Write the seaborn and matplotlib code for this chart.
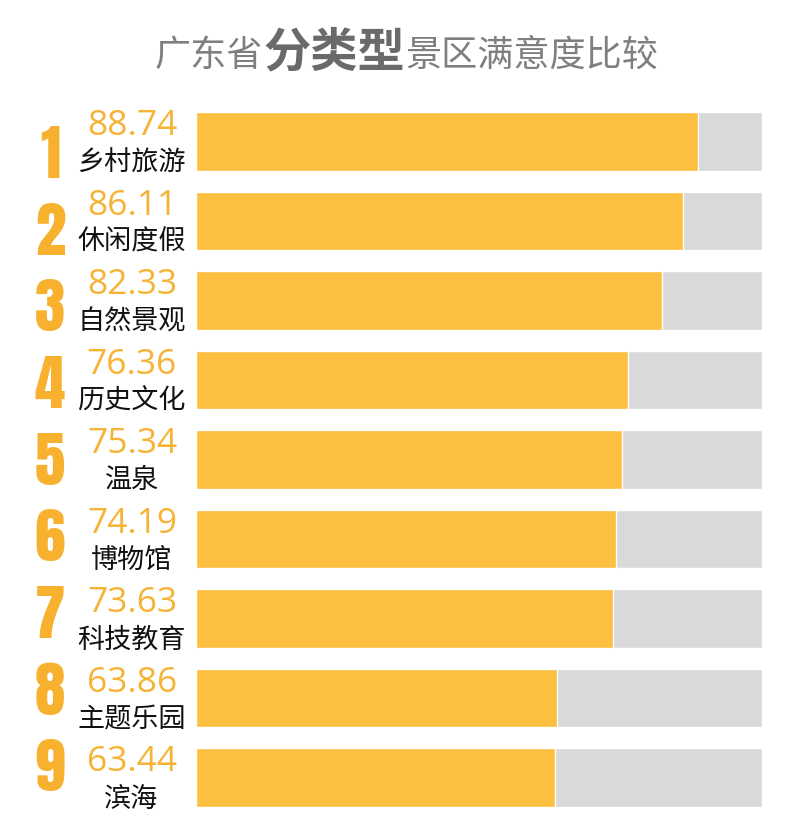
import matplotlib
matplotlib.use("Agg")
import matplotlib.pyplot as plt
import matplotlib.transforms as mtransforms
import seaborn as sns
import pandas as pd

categories = ["乡村旅游", "休闲度假", "自然景观", "历史文化", "温泉", "博物馆", "科技教育", "主题乐园", "滨海"]
scores = [88.74, 86.11, 82.33, 76.36, 75.34, 74.19, 73.63, 63.86, 63.44]
ranks = ["1", "2", "3", "4", "5", "6", "7", "8", "9"]
full_scale = [100] * len(categories)

sns.set_theme(style="white")
plt.rcParams["font.family"] = ["Noto Sans CJK SC", "DejaVu Sans"]

df = pd.DataFrame({"cat": categories, "score": scores, "full": full_scale})

fig = plt.figure(figsize=(8, 8.39), dpi=100)
ax = fig.add_axes([0.245, 1 - 817.25 / 839, 566 / 800, (817.25 - 101.75) / 839])

sns.barplot(data=df, x="full", y="cat", orient="h", color="#D9D9D9", width=0.73,
            saturation=1, ax=ax)
sns.barplot(data=df, x="score", y="cat", orient="h", color="#FCBF3F", width=0.73,
            saturation=1, ax=ax)
ax.set_xlim(0, 100)
ax.set_ylim(len(categories) - 0.5, -0.5)
ax.axis("off")

tr = mtransforms.blended_transform_factory(fig.transFigure, ax.transData)
n = len(categories)
for i, (c, s, r) in enumerate(zip(categories, scores, ranks)):
    fig.text(132 / 800, i - 0.19, f"{s:.2f}", transform=tr, ha="center", va="center",
             fontsize=25.5, color="#F6B335", fontweight="normal",
             family=["Open Sans", "DejaVu Sans"])
    fig.text(131.5 / 800, i + 0.27, c, transform=tr, ha="center", va="center",
             fontsize=19.5, color="#111111", family=["Noto Sans CJK SC", "DejaVu Sans"])
    fig.text(50 / 800, 0.176 + i * 0.9646, r, transform=tr, ha="center", va="center",
             fontsize=44, color="#F8B12E",
             family=["Anton", "DejaVu Sans"])

# Title in three pieces, sharing one baseline
pieces = [("广东省", "normal", "#7F7F7F", 26), ("分类型", "bold", "#6A6A6A", 34),
          ("景区满意度比较", "normal", "#7F7F7F", 26)]
fig.canvas.draw()
renderer = fig.canvas.get_renderer()
x = 155
for s, w, col, fs in pieces:
    t = fig.text(x / 800, 1 - 66 / 839, s, ha="left", va="baseline", fontsize=fs,
                 fontweight=w, color=col, family=["Noto Sans CJK SC", "DejaVu Sans"])
    bb = t.get_window_extent(renderer=renderer)
    x += bb.width

fig.savefig("out.png", dpi=100, facecolor="white")
